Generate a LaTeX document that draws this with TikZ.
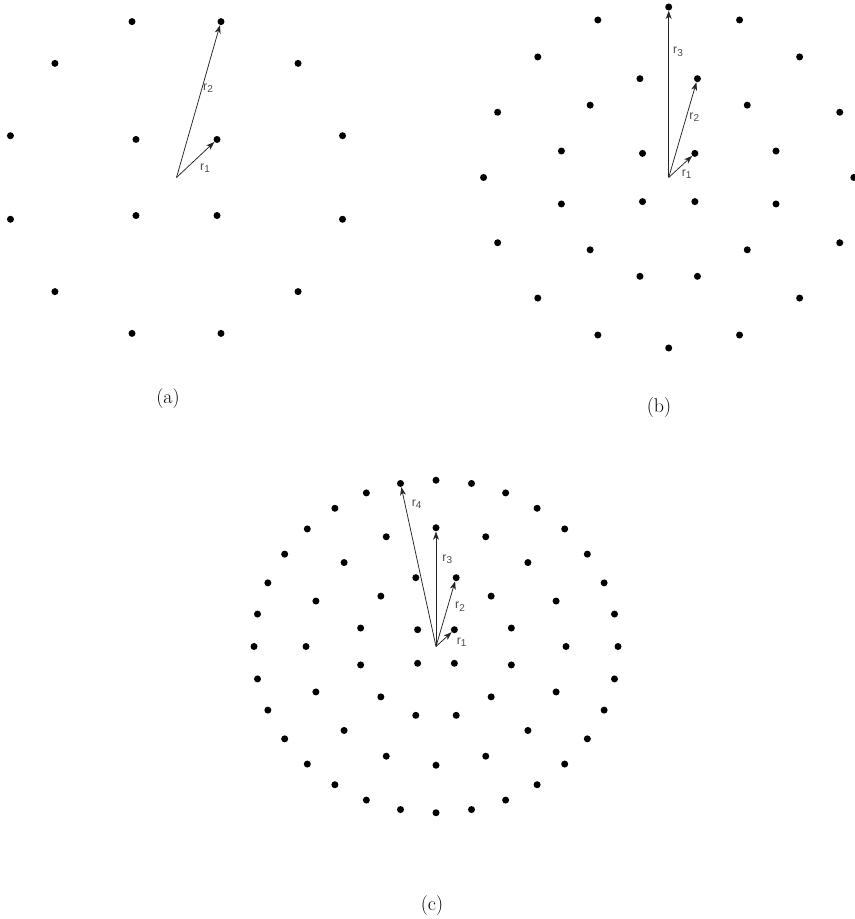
\documentclass[tikz,border=0pt]{standalone}
\usepackage{fontspec}
\newfontfamily\labfont{Liberation Sans}
\usetikzlibrary{arrows.meta}

\tikzset{
  site/.style={circle, fill=black, inner sep=0pt, minimum size=0.21cm},
  vec/.style={-{Stealth[length=7pt,width=5pt,inset=2pt]}, line width=0.65pt, black!85},
  lab/.style={font=\labfont\fontsize{10.5}{10.5}\selectfont, text=black!70, inner sep=0pt},
  captext/.style={font=\fontsize{17}{20}\selectfont, inner sep=0pt}
}
\newcommand{\rlab}[1]{r\raisebox{-0.4ex}{\fontsize{8.5}{8.5}\selectfont #1}}

\begin{document}
\begin{tikzpicture}[x=0.03cm,y=0.03cm]
\useasboundingbox (0,0) rectangle (854,919);
% (a) two rings
\begin{scope}[shift={(176.5,741.5)}]
  \coordinate (oa) at (0,0);
  \foreach \r/\n/\o in {1/4/45,3/12/15} {
    \foreach \i in {1,...,\n} {
      \pgfmathsetmacro{\ang}{\o+(\i-1)*360/\n}
      \node[site] (a\r-\i) at ({\ang}:{\r*57.3} and {\r*53.8}) {};
    }
  }
  \draw[vec] (oa) -- (a1-1);
  \draw[vec] (oa) -- (a3-3);
  \node[lab] (ra1) at (28.5,9.5) {\rlab{1}};
  \node[lab] (ra2) at (31.5,89.5) {\rlab{2}};
\end{scope}
% (b) three rings
\begin{scope}[shift={(668.7,741.5)}]
  \coordinate (ob) at (0,0);
  \foreach \r/\n/\o in {1/4/45,3/12/15,5/16/0} {
    \foreach \i in {1,...,\n} {
      \pgfmathsetmacro{\ang}{\o+(\i-1)*360/\n}
      \node[site] (b\r-\i) at ({\ang}:{\r*37.03} and {\r*34.1}) {};
    }
  }
  \draw[vec] (ob) -- (b1-1);
  \draw[vec] (ob) -- (b3-3);
  \draw[vec] (ob) -- (b5-5);
  \node[lab] (rb1) at (18,3.2) {\rlab{1}};
  \node[lab] (rb2) at (25.6,60.2) {\rlab{2}};
  \node[lab] (rb3) at (9.3,125.5) {\rlab{3}};
\end{scope}
% (c) four rings
\begin{scope}[shift={(436,272.5)}]
  \coordinate (oc) at (0,0);
  \foreach \r/\n/\o in {1/4/45,3/12/15,5/16/0,7/32/0} {
    \foreach \i in {1,...,\n} {
      \pgfmathsetmacro{\ang}{\o+(\i-1)*360/\n}
      \node[site] (c\r-\i) at ({\ang}:{\r*26} and {\r*23.75}) {};
    }
  }
  \draw[vec] (oc) -- (c1-1);
  \draw[vec] (oc) -- (c3-3);
  \draw[vec] (oc) -- (c5-5);
  \draw[vec] (oc) -- (c7-10);
  \node[lab] (rc1) at (25.7,4.2) {\rlab{1}};
  \node[lab] (rc2) at (24,39.8) {\rlab{2}};
  \node[lab] (rc3) at (11.3,87.2) {\rlab{3}};
  \node[lab] (rc4) at (-19.3,142.2) {\rlab{4}};
\end{scope}
% captions
\node[captext] (capa) at (168,520.5) {(a)};
\node[captext] (capb) at (659,511.5) {(b)};
\node[captext] (capc) at (432,13) {(c)};
\end{tikzpicture}
\end{document}
